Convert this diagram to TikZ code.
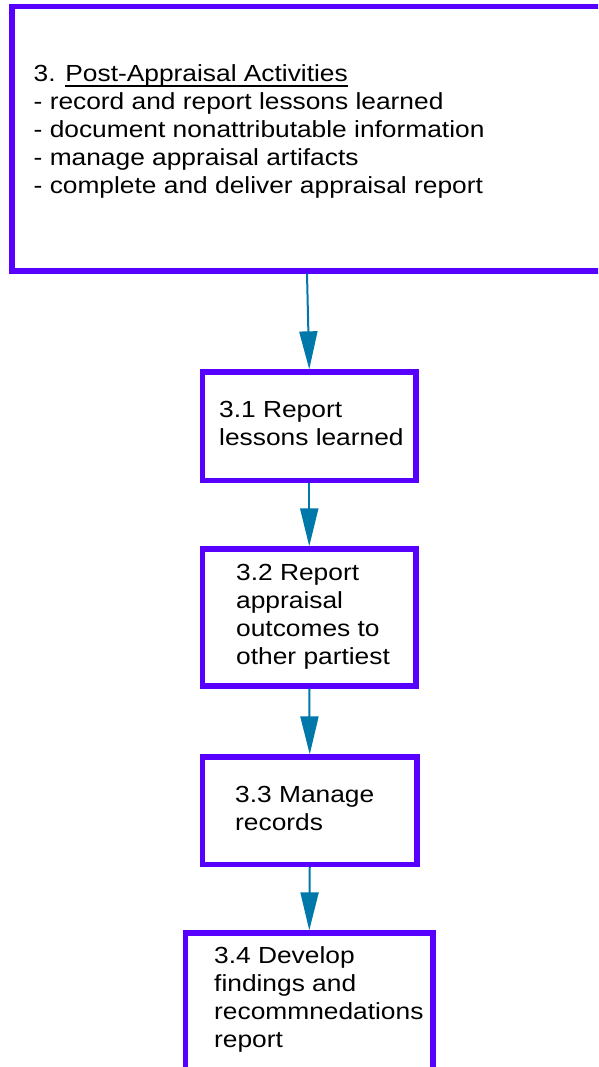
\documentclass[tikz,border=0pt]{standalone}
\usepackage{fontspec}
\setmainfont{Liberation Sans}
\newfontfamily\dfont[FakeStretch=1.13]{Liberation Sans}
\usetikzlibrary{arrows.meta}
\definecolor{boxblue}{RGB}{88,0,255}
\definecolor{arrteal}{RGB}{0,120,170}
\newcommand\myul[1]{\setbox0\hbox{#1}\rlap{\rule[-5pt]{\wd0}{1.6pt}}\box0}
\tikzset{
  frame/.style={draw=boxblue, line width=5.3pt, inner sep=0pt, fill=white},
  toptext/.style={anchor=base west, inner sep=0pt, font=\dfont\fontsize{23.3}{27.9}\selectfont},
  boxtext/.style={anchor=base west, inner sep=0pt, font=\dfont\fontsize{23.3}{28.1}\selectfont},
  arr/.style={draw=arrteal, line width=2pt, -{Triangle[length=38pt,width=18pt]}}
}
\begin{document}
\begin{tikzpicture}[x=1pt,y=-1pt]
\useasboundingbox (0,0) rectangle (598,1067);
\clip (0,0) rectangle (598,1067);
\node[frame, minimum width=613pt, minimum height=264.3pt] (top) at (318.5,138.85) {};
\node[frame, minimum width=213.5pt, minimum height=108.5pt] (b31) at (309.25,426.25) {};
\node[frame, minimum width=213.5pt, minimum height=137pt] (b32) at (309.25,617.5) {};
\node[frame, minimum width=214.5pt, minimum height=107.5pt] (b33) at (309.75,810.75) {};
\node[frame, minimum width=247.5pt, minimum height=167pt] (b34) at (309.25,1016.5) {};
\node[toptext] (ttop) at (33.5,81.7) {\begin{minipage}[t]{560pt}\raggedright
3. \myul{Post-Appraisal Activities}\\
- record and report lessons learned\\
- document nonattributable information\\
- manage appraisal artifacts\\
- complete and deliver appraisal report\end{minipage}};
\node[boxtext] (t31) at (219,417) {\begin{minipage}[t]{200pt}\raggedright 3.1 Report\\lessons learned\end{minipage}};
\node[boxtext] (t32) at (236,580) {\begin{minipage}[t]{200pt}\raggedright 3.2 Report\\appraisal\\outcomes to\\other partiest\end{minipage}};
\node[boxtext] (t33) at (235,802) {\begin{minipage}[t]{200pt}\raggedright 3.3 Manage\\records\end{minipage}};
\node[boxtext] (t34) at (214,963) {\begin{minipage}[t]{240pt}\raggedright 3.4 Develop\\findings and\\recommnedations\\report\end{minipage}};
\draw[arr] ([xshift=-11.5pt]top.south) -- (b31.north);
\draw[arr] (b31.south) -- (b32.north);
\draw[arr] (b32.south) -- (b33.north);
\draw[arr] (b33.south) -- (b34.north);
\end{tikzpicture}
\end{document}
